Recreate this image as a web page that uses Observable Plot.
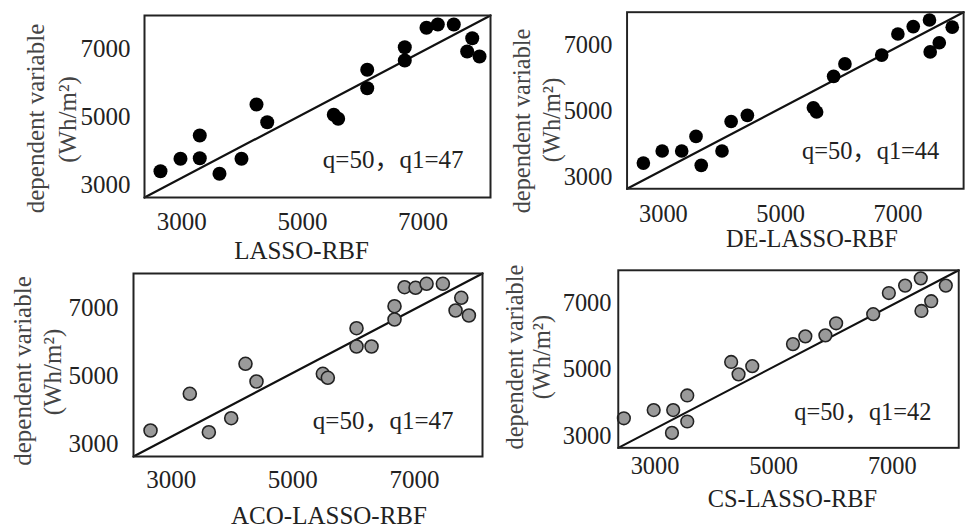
<!DOCTYPE html>
<html>
<head>
<meta charset="utf-8">
<script src="https://cdn.jsdelivr.net/npm/d3@7"></script>
<script src="https://cdn.jsdelivr.net/npm/@observablehq/plot@0.6"></script>
<style>
html, body { margin: 0; padding: 0; background: #fff; overflow: hidden; }
#wrap { position: relative; width: 968px; height: 528px; overflow: hidden; }
#wrap > div { position: absolute; }
</style>
</head>
<body>
<div id="wrap"></div>
<script>
// ---- data ----
const ticks = [3000, 5000, 7000];
const xDomain = [2380, 8120];
const yDomain = [2640, 8000];

const p1x = [2645,2977,3297,3297,3624,3989,4238,4416,5520,5593,6075,6075,6698,6698,7058,7246,7511,7817,7733,7938];
const p1y = [3415,3780,4466,3797,3338,3780,5379,4858,5076,4958,6401,5859,7066,6675,7638,7735,7735,7331,6940,6792];

const p2x = [2658,2979,3312,3556,3645,3999,4155,4432,5558,5613,5903,6096,6723,6999,7261,7538,7550,7705,7926];
const p2y = [3419,3786,3786,4230,3351,3786,4683,4870,5098,4970,6054,6430,6697,7339,7564,7763,6794,7073,7546];

const p3x = [2660,3306,3619,3987,4222,4403,5494,5576,6048,6048,6295,6673,6673,6838,7019,7200,7468,7771,7677,7896];
const p3y = [3402,4476,3352,3762,5355,4837,5062,4945,6398,5862,5862,7042,6653,7599,7581,7698,7698,7288,6916,6770];

const p4x = [2474,2977,3306,3285,3543,3543,4283,4408,4639,5325,5534,5872,6053,6678,6942,7216,7480,7491,7656,7902];
const p4y = [3532,3780,3780,3091,4221,3435,5232,4858,5105,5771,6006,6036,6401,6675,7314,7538,7756,6772,7066,7538];

const xLabels = ["LASSO-RBF", "DE-LASSO-RBF", "ACO-LASSO-RBF", "CS-LASSO-RBF"];
const notes = ["q=50，q1=47", "q=50，q1=44", "q=50，q1=47", "q=50，q1=42"];
const yLabel1 = "dependent variable";
const yLabel2 = "(Wh/m²)";

// ---- layout per panel ----
const panels = [
  {xs: p1x, ys: p1y, left: 0,   top: 0,   width: 495, height: 262, ml: 144, mt: 15, mr: 5,  mb: 65,
   gray: false, xpad: 15, ypad: 14, lab: [-16, 61], yl1: [-109, 12], yl2: [-77, 13], note: [-27, -30]},
  {xs: p2x, ys: p2y, left: 490, top: 0,   width: 490, height: 262, ml: 140, mt: 12, mr: 5,  mb: 69,
   gray: false, xpad: 16, ypad: 15, lab: [17, 60], yl1: [-107, 21], yl2: [-77, 20], note: [-25, -30]},
  {xs: p3x, ys: p3y, left: 0,   top: 262, width: 490, height: 266, ml: 133, mt: 11, mr: 8,  mb: 72,
   gray: true, xpad: 14, ypad: 15, lab: [21, 67], yl1: [-111, 6], yl2: [-81, 7], note: [-29, -28]},
  {xs: p4x, ys: p4y, left: 490, top: 262, width: 490, height: 266, ml: 131, mt: 8,  mr: 10, mb: 76,
   gray: true, xpad: 9, ypad: 7, lab: [4, 61], yl1: [-106, -2], yl2: [-78, -2], note: [-28, -29]}
];

const font = "'Liberation Serif', 'Times New Roman', 'Noto Sans CJK SC', serif";
const wrap = document.getElementById("wrap");

panels.forEach((p, i) => {
  const pts = p.xs.map((x, k) => ({x, y: p.ys[k]}));
  const diag = [{x: xDomain[0], y: yDomain[0]}, {x: xDomain[1], y: yDomain[1]}];
  const chart = Plot.plot({
    width: p.width, height: p.height,
    marginLeft: p.ml, marginTop: p.mt, marginRight: p.mr, marginBottom: p.mb,
    style: {fontFamily: font, fontSize: "25px", color: "#222", background: "transparent", overflow: "visible"},
    x: {domain: xDomain},
    y: {domain: yDomain},
    marks: [
      Plot.axisX({ticks, tickSize: 0, tickPadding: p.xpad, tickFormat: d => String(d), label: null, fontSize: 25, fill: "#222"}),
      Plot.axisY({ticks, tickSize: 0, tickPadding: p.ypad, tickFormat: d => String(d), label: null, fontSize: 25, fill: "#222"}),
      Plot.line(diag, {x: "x", y: "y", stroke: "#111", strokeWidth: 2.2}),
      Plot.dot(pts, {x: "x", y: "y", r: p.gray ? 6.5 : 7,
        fill: p.gray ? "#9a9a9a" : "#000", stroke: p.gray ? "#222" : "none", strokeWidth: p.gray ? 1.6 : 0}),
      Plot.frame({stroke: "#222", strokeWidth: 2}),
      Plot.text([notes[i]], {text: d => d, frameAnchor: "bottom-right", textAnchor: "end", lineAnchor: "bottom",
        dx: p.note[0], dy: p.note[1], fontSize: 25, fill: "#222"}),
      Plot.text([xLabels[i]], {text: d => d, frameAnchor: "bottom", textAnchor: "middle", lineAnchor: "bottom",
        dx: p.lab[0], dy: p.lab[1], fontSize: 25, fill: "#222"}),
      Plot.text([yLabel1], {text: d => d, frameAnchor: "left", textAnchor: "middle", rotate: -90, lineAnchor: "middle",
        dx: p.yl1[0], dy: p.yl1[1], fontSize: 25, fill: "#444"}),
      Plot.text([yLabel2], {text: d => d, frameAnchor: "left", textAnchor: "middle", rotate: -90, lineAnchor: "middle",
        dx: p.yl2[0], dy: p.yl2[1], fontSize: 25, fill: "#444"})
    ]
  });
  const holder = document.createElement("div");
  holder.style.left = p.left + "px";
  holder.style.top = p.top + "px";
  holder.appendChild(chart);
  wrap.appendChild(holder);
});
</script>
</body>
</html>
